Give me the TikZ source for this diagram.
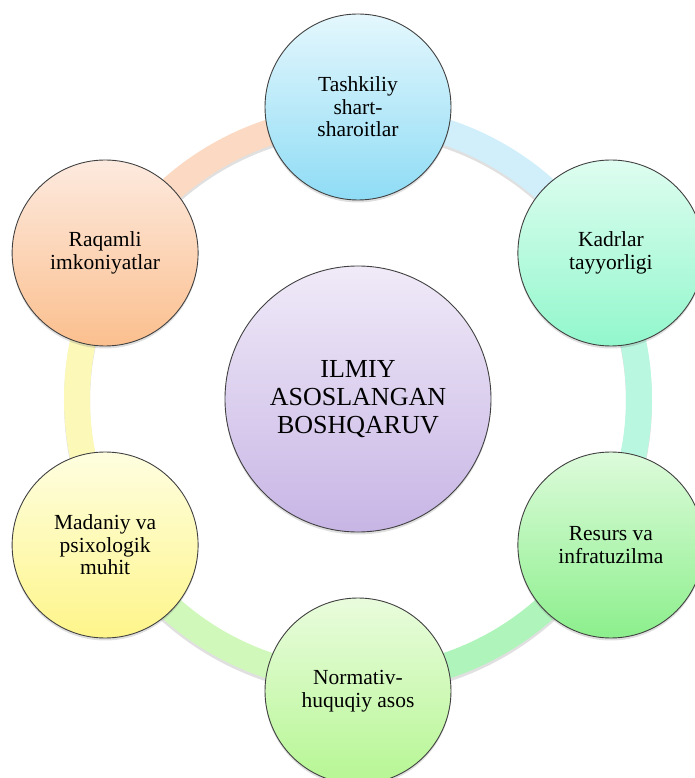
\documentclass[tikz,border=0pt]{standalone}
\usepackage{fontspec}
\setmainfont{Liberation Serif}
\usetikzlibrary{shadows}

\definecolor{tashTop}{HTML}{E4F7FD}
\definecolor{tashBot}{HTML}{8FDCF5}
\definecolor{kadTop}{HTML}{DEFDF0}
\definecolor{kadBot}{HTML}{92F7CC}
\definecolor{resTop}{HTML}{DDFBDB}
\definecolor{resBot}{HTML}{8CEF8C}
\definecolor{norTop}{HTML}{E9FCDD}
\definecolor{norBot}{HTML}{B6F693}
\definecolor{madTop}{HTML}{FEFEE0}
\definecolor{madBot}{HTML}{FEF58A}
\definecolor{raqTop}{HTML}{FDEADF}
\definecolor{raqBot}{HTML}{FBBF8E}
\definecolor{hubTop}{HTML}{F0EAF8}
\definecolor{hubBot}{HTML}{C7B5E5}

\definecolor{raqBand}{HTML}{FBD9C2}
\definecolor{tashBand}{HTML}{D0EFFA}
\definecolor{kadBand}{HTML}{B9F7E0}
\definecolor{resBand}{HTML}{AFF4BA}
\definecolor{norBand}{HTML}{D0F8BA}
\definecolor{madBand}{HTML}{FBF8B8}

\tikzset{
  part/.style={circle, draw=black!75, line width=0.9pt, minimum size=186pt, inner sep=0pt,
    align=center, font=\fontsize{21.5}{22.5}\selectfont,
    drop shadow={opacity=0.25, shadow xshift=0pt, shadow yshift=-2.5pt}},
  hubcircle/.style={part, minimum size=266pt, font=\fontsize{26}{28}\selectfont},
  band/.style={line width=26pt},
  bandshadow/.style={line width=26pt, black, opacity=0.12}
}

\begin{document}
\begin{tikzpicture}
        \useasboundingbox (-358pt,-379pt) rectangle (337pt,399pt);
        \coordinate (o) at (0pt,0pt);

        \node[hubcircle, top color=hubTop, bottom color=hubBot] (hub) at (o) {ILMIY\\ASOSLANGAN\\BOSHQARUV};

        \draw[bandshadow] ([yshift=-3pt]o) circle[radius=281pt];

        \draw[band, raqBand] (o) ++(150:281pt) arc[start angle=150, end angle=90, radius=281pt];
        \draw[band, tashBand] (o) ++(90:281pt) arc[start angle=90, end angle=30, radius=281pt];
        \draw[band, kadBand] (o) ++(30:281pt) arc[start angle=30, end angle=-30, radius=281pt];
        \draw[band, resBand] (o) ++(-30:281pt) arc[start angle=-30, end angle=-90, radius=281pt];
        \draw[band, norBand] (o) ++(-90:281pt) arc[start angle=-90, end angle=-150, radius=281pt];
        \draw[band, madBand] (o) ++(-150:281pt) arc[start angle=-150, end angle=-210, radius=281pt];

        \node[part, top color=tashTop, bottom color=tashBot] (tash) at (90:292pt) {Tashkiliy\\shart-\\sharoitlar};
        \node[part, top color=kadTop, bottom color=kadBot] (kad) at (30:292pt) {Kadrlar\\tayyorligi};
        \node[part, top color=resTop, bottom color=resBot] (res) at (-30:292pt) {Resurs va\\infratuzilma};
        \node[part, top color=norTop, bottom color=norBot] (nor) at (-90:292pt) {Normativ-\\huquqiy asos};
        \node[part, top color=madTop, bottom color=madBot] (mad) at (-150:292pt) {Madaniy va\\psixologik\\muhit};
        \node[part, top color=raqTop, bottom color=raqBot] (raq) at (150:292pt) {Raqamli\\imkoniyatlar};
    \end{tikzpicture}
\end{document}
